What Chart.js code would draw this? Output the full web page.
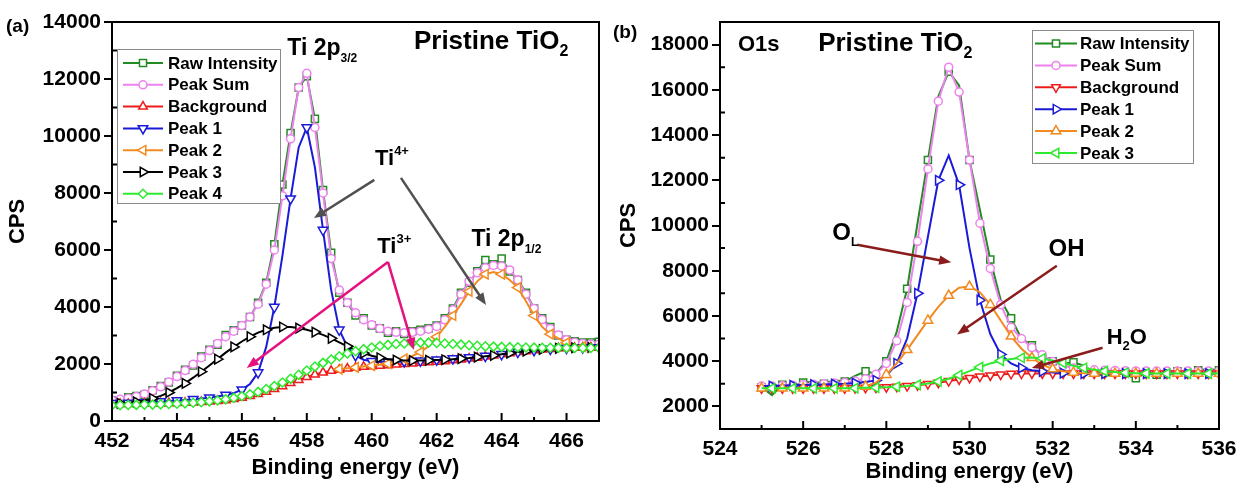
<!DOCTYPE html>
<html>
<head>
<meta charset="utf-8">
<script src="https://cdn.jsdelivr.net/npm/chart.js@4.4.1/dist/chart.umd.min.js"></script>
<style>
html, body { margin: 0; padding: 0; background: #fff; }
#wrap { position: relative; width: 1244px; height: 484px; }
canvas { position: absolute; top: 0; }
#chartA { left: 0; }
#chartB { left: 606px; }
</style>
</head>
<body>
<div id="wrap">
  <canvas id="chartA" width="606" height="484"></canvas>
  <canvas id="chartB" width="638" height="484"></canvas>
</div>
<script>
var FONT = '"Liberation Sans", Arial, sans-serif';

// ---- panel (a) : Ti 2p ----
var energyA = [
  452, 452.25, 452.5, 452.75, 453, 453.25, 453.5, 453.75,
  454, 454.25, 454.5, 454.75, 455, 455.25, 455.5, 455.75,
  456, 456.25, 456.5, 456.75, 457, 457.25, 457.5, 457.75,
  458, 458.25, 458.5, 458.75, 459, 459.25, 459.5, 459.75,
  460, 460.25, 460.5, 460.75, 461, 461.25, 461.5, 461.75,
  462, 462.25, 462.5, 462.75, 463, 463.25, 463.5, 463.75,
  464, 464.25, 464.5, 464.75, 465, 465.25, 465.5, 465.75,
  466, 466.25, 466.5, 466.75, 467
];
var rawA = [
  720, 700, 830, 880, 920, 1080, 1230, 1350,
  1590, 1800, 1950, 2260, 2500, 2680, 3020, 3180,
  3350, 3650, 4150, 4850, 6200, 8300, 10100, 11700,
  12100, 10600, 8100, 5900, 4500, 4150, 3700, 3600,
  3350, 3250, 3100, 3150, 3050, 3150, 3200, 3250,
  3350, 3600, 3950, 4500, 4850, 5250, 5650, 5500,
  5700, 5250, 4950, 4500, 3950, 3600, 3300, 3000,
  2850, 2800, 2750, 2750, 2780
];
var sumA = [
  730, 760, 800, 860, 950, 1060, 1200, 1370,
  1560, 1770, 1990, 2220, 2470, 2720, 2960, 3150,
  3350, 3650, 4100, 4800, 6000, 7900, 9900, 11700,
  12200, 10300, 8000, 5700, 4600, 4150, 3800, 3550,
  3380, 3250, 3150, 3110, 3100, 3110, 3150, 3220,
  3320, 3550, 3900, 4450, 4900, 5200, 5380, 5460,
  5440, 5300, 4950, 4450, 3950, 3560, 3250, 3020,
  2850, 2760, 2720, 2700, 2690
];
var bgA = [
  600, 600, 600, 605, 610, 615, 620, 625,
  630, 640, 650, 665, 680, 700, 730, 770,
  820, 880, 950, 1030, 1120, 1220, 1330, 1440,
  1540, 1630, 1700, 1760, 1800, 1840, 1870, 1900,
  1920, 1940, 1960, 1980, 2000, 2020, 2040, 2060,
  2080, 2100, 2130, 2160, 2190, 2220, 2260, 2300,
  2340, 2380, 2420, 2450, 2480, 2510, 2530, 2550,
  2560, 2570, 2575, 2580, 2580
];
var peak1A = [
  620, 625, 630, 640, 650, 660, 680, 700,
  720, 740, 760, 790, 820, 860, 910, 980,
  1100, 1300, 1700, 2600, 4000, 5800, 7800, 9600,
  10300, 8900, 6700, 4600, 3200, 2600, 2300, 2150,
  2100, 2080, 2080, 2080, 2090, 2100, 2110, 2130,
  2150, 2170, 2190, 2210, 2230, 2250, 2280, 2310,
  2340, 2380, 2420, 2450, 2480, 2510, 2530, 2550,
  2560, 2570, 2575, 2580, 2580
];
var peak2A = [
  null, null, null, null, null, null, null, null,
  null, null, null, null, null, null, null, null,
  null, null, null, null, null, null, null, null,
  null, null, null, null, 1820, 1850, 1880, 1910,
  1940, 1970, 2010, 2100, 2180, 2280, 2420, 2620,
  2950, 3300, 3700, 4100, 4550, 4900, 5150, 5230,
  5150, 4950, 4680, 4200, 3700, 3300, 3050, 2900,
  2750, 2660, 2610, 2590, 2580
];
var peak3A = [
  610, 620, 640, 670, 720, 790, 880, 1000,
  1150, 1320, 1520, 1730, 1950, 2170, 2400, 2600,
  2790, 2960, 3100, 3200, 3270, 3300, 3300, 3260,
  3200, 3120, 3020, 2900, 2760, 2620, 2490, 2380,
  2290, 2220, 2170, 2140, 2120, 2120, 2120, 2130,
  2140, 2150, 2170, 2190, 2210, 2240, 2270, 2300,
  2340, 2380, 2420, 2450, 2480, 2510, 2530, 2550,
  2560, 2570, 2575, 2580, 2580
];
var peak4A = [
  550, 555, 560, 565, 570, 575, 585, 595,
  605, 620, 640, 660, 690, 720, 760, 810,
  870, 940, 1020, 1120, 1230, 1350, 1480, 1620,
  1770, 1910, 2040, 2160, 2270, 2370, 2450, 2520,
  2580, 2630, 2670, 2700, 2720, 2740, 2750, 2750,
  2740, 2720, 2700, 2680, 2660, 2640, 2620, 2610,
  2600, 2590, 2585, 2580, 2575, 2570, 2570, 2565,
  2565, 2560, 2560, 2560, 2560
];
var xTicksA = [452, 454, 456, 458, 460, 462, 464, 466];
var xMinorA = [453, 455, 457, 459, 461, 463, 465];
var yTicksA = [0, 2000, 4000, 6000, 8000, 10000, 12000, 14000];
var yMinorA = [1000, 3000, 5000, 7000, 9000, 11000, 13000];

// ---- panel (b) : O 1s ----
var energyB = [
  525, 525.25, 525.5, 525.75, 526, 526.25, 526.5, 526.75,
  527, 527.25, 527.5, 527.75, 528, 528.25, 528.5, 528.75,
  529, 529.25, 529.5, 529.75, 530, 530.25, 530.5, 530.75,
  531, 531.25, 531.5, 531.75, 532, 532.25, 532.5, 532.75,
  533, 533.25, 533.5, 533.75, 534, 534.25, 534.5, 534.75,
  535, 535.25, 535.5, 535.75, 536
];
var rawB = [
  2850, 2500, 2950, 2900, 3050, 3100, 3000, 3150,
  3100, 3350, 3550, 3450, 4000, 5300, 7200, 10100,
  12900, 15700, 16800, 16200, 12900, 10700, 8500, 6700,
  5900, 5000, 4700, 4200, 4000, 3900, 3950, 3800,
  3500, 3300, 3500, 3400, 3250, 3500, 3400, 3450,
  3550, 3450, 3600, 3650, 3600
];
var sumB = [
  2900, 2900, 2920, 2940, 2960, 2980, 3000, 3030,
  3060, 3120, 3220, 3420, 3900, 4900, 6600, 9300,
  12500, 15500, 17000, 15900, 12900, 10100, 8100, 6500,
  5500, 5000, 4600, 4280, 3980, 3800, 3700, 3650,
  3620, 3600, 3590, 3580, 3570, 3565, 3560, 3560,
  3560, 3560, 3560, 3560, 3560
];
var bgB = [
  2800, 2800, 2800, 2800, 2800, 2800, 2800, 2800,
  2800, 2810, 2820, 2830, 2850, 2870, 2900, 2940,
  2990, 3050, 3120, 3190, 3260, 3320, 3370, 3410,
  3440, 3450, 3460, 3460, 3460, 3455, 3455, 3450,
  3450, 3450, 3450, 3450, 3450, 3450, 3450, 3450,
  3450, 3450, 3450, 3450, 3450
];
var peak1B = [
  2900, 2900, 2920, 2930, 2950, 2960, 2970, 2990,
  3000, 3030, 3080, 3150, 3350, 3900, 5000, 7000,
  9500, 12000, 13100, 11800, 9000, 6700, 5200, 4300,
  3900, 3700, 3600, 3550, 3500, 3470, 3460, 3450,
  3450, 3450, 3450, 3450, 3450, 3450, 3450, 3450,
  3450, 3450, 3450, 3450, 3450
];
var peak2B = [
  2800, 2800, 2800, 2800, 2800, 2800, 2800, 2800,
  2800, 2820, 2880, 3050, 3400, 3900, 4500, 5150,
  5800, 6400, 6900, 7250, 7300, 7050, 6500, 5800,
  5100, 4550, 4150, 3850, 3650, 3550, 3500, 3470,
  3460, 3450, 3450, 3450, 3450, 3450, 3450, 3450,
  3450, 3450, 3450, 3450, 3450
];
var peak3B = [
  2800, 2800, 2800, 2800, 2800, 2800, 2800, 2800,
  2800, 2810, 2820, 2830, 2850, 2870, 2900, 2950,
  3010, 3100, 3220, 3380, 3560, 3740, 3900, 4020,
  4100, 4150, 4160, 4120, 4030, 3920, 3800, 3700,
  3620, 3560, 3520, 3490, 3470, 3460, 3450, 3450,
  3450, 3450, 3450, 3450, 3450
];
var xTicksB = [524, 526, 528, 530, 532, 534, 536];
var xMinorB = [525, 527, 529, 531, 533, 535];
var yTicksB = [2000, 4000, 6000, 8000, 10000, 12000, 14000, 16000, 18000];
var yMinorB = [1000, 3000, 5000, 7000, 9000, 11000, 13000, 15000, 17000, 19000];

function series(label, xs, ys, color, style, rot, r, every, shift, order) {
  return {
    label: label,
    data: xs.map(function (x, i) { return { x: x, y: ys[i] }; }),
    borderColor: color,
    borderWidth: 2,
    backgroundColor: '#fff',
    pointStyle: style,
    pointRotation: rot,
    pointBorderColor: color,
    pointBackgroundColor: '#fff',
    pointBorderWidth: 1.5,
    pointRadius: function (c) { return c.dataIndex % every === shift ? r : 0; },
    pointHoverRadius: 0,
    tension: 0,
    fill: false,
    order: order,
    markR: r
  };
}

function drawSegs(ctx, segs, x, y) {
  ctx.fillStyle = '#000';
  ctx.textBaseline = 'alphabetic';
  ctx.textAlign = 'left';
  segs.forEach(function (s) {
    ctx.font = 'bold ' + s.s + 'px ' + FONT;
    ctx.fillText(s.t, x, y + (s.dy || 0));
    x += ctx.measureText(s.t).width;
  });
}

function arrow(ctx, x1, y1, x2, y2, color, w, head) {
  var ang = Math.atan2(y2 - y1, x2 - x1);
  ctx.strokeStyle = color;
  ctx.fillStyle = color;
  ctx.lineWidth = w;
  ctx.beginPath();
  ctx.moveTo(x1, y1);
  ctx.lineTo(x2 - Math.cos(ang) * head * 0.7, y2 - Math.sin(ang) * head * 0.7);
  ctx.stroke();
  ctx.beginPath();
  ctx.moveTo(x2, y2);
  ctx.lineTo(x2 - head * Math.cos(ang - 0.38), y2 - head * Math.sin(ang - 0.38));
  ctx.lineTo(x2 - head * Math.cos(ang + 0.38), y2 - head * Math.sin(ang + 0.38));
  ctx.closePath();
  ctx.fill();
}

// frame, inward ticks, arrows, labels, legend
var decor = {
  id: 'decor',
  afterDatasetsDraw: function (chart, args, o) {
    var ctx = chart.ctx, a = chart.chartArea;
    var sx = chart.scales.x, sy = chart.scales.y;
    ctx.save();
    ctx.strokeStyle = '#000';
    ctx.lineWidth = 2;
    ctx.beginPath();
    o.xMajor.forEach(function (v) {
      var p = sx.getPixelForValue(v);
      ctx.moveTo(p, a.bottom); ctx.lineTo(p, a.bottom - 8);
    });
    o.xMinor.forEach(function (v) {
      var p = sx.getPixelForValue(v);
      ctx.moveTo(p, a.bottom); ctx.lineTo(p, a.bottom - 4);
    });
    o.yMinor.forEach(function (v) {
      var p = sy.getPixelForValue(v);
      ctx.moveTo(a.left, p); ctx.lineTo(a.left + 5, p);
    });
    ctx.stroke();
    ctx.strokeRect(a.left, a.top, a.right - a.left, a.bottom - a.top);

    o.arrows.forEach(function (r) {
      arrow(ctx, sx.getPixelForValue(r[0]), sy.getPixelForValue(r[1]),
        sx.getPixelForValue(r[2]), sy.getPixelForValue(r[3]), r[4], 2.5, 13);
    });
    o.texts.forEach(function (t) {
      drawSegs(ctx, t.segs, sx.getPixelForValue(t.x), sy.getPixelForValue(t.y));
    });
    drawSegs(ctx, [{ t: o.tag, s: 19 }], o.tagX, o.tagY);

    var L = o.legend;
    ctx.fillStyle = '#fff';
    ctx.fillRect(L.x, L.y, L.w, L.h);
    ctx.strokeStyle = '#8a8a8a';
    ctx.lineWidth = 1;
    ctx.strokeRect(L.x + 0.5, L.y + 0.5, L.w, L.h);
    chart.data.datasets.forEach(function (d, i) {
      var yy = L.row0 + i * L.rowH;
      ctx.strokeStyle = d.borderColor;
      ctx.lineWidth = 2;
      ctx.beginPath();
      ctx.moveTo(L.l0, yy); ctx.lineTo(L.l1, yy);
      ctx.stroke();
      ctx.fillStyle = '#fff';
      ctx.lineWidth = 1.5;
      Chart.helpers.drawPoint(ctx, {
        pointStyle: d.pointStyle, rotation: d.pointRotation,
        radius: d.markR, borderWidth: 1.5
      }, (L.l0 + L.l1) / 2, yy);
      ctx.fillStyle = '#000';
      ctx.font = 'bold 17px ' + FONT;
      ctx.textBaseline = 'middle';
      ctx.fillText(d.label, L.tx, yy + 1);
    });
    ctx.restore();
  }
};

function build(id, datasets, ax, notes) {
  var tickFont = { family: FONT, size: 21, weight: 'bold' };
  var titleFont = { family: FONT, size: 22, weight: 'bold', lineHeight: 1 };
  return new Chart(document.getElementById(id), {
    type: 'line',
    data: { datasets: datasets },
    plugins: [decor],
    options: {
      responsive: false,
      animation: false,
      devicePixelRatio: 1,
      layout: { padding: ax.pad },
      plugins: { legend: { display: false }, tooltip: { enabled: false }, decor: notes },
      scales: {
        x: {
          type: 'linear', min: ax.xMin, max: ax.xMax,
          afterBuildTicks: function (s) { s.ticks = ax.xTicks.map(function (v) { return { value: v }; }); },
          afterFit: function (s) { s.height = ax.xH; },
          grid: { display: false },
          border: { display: false },
          ticks: { color: '#000', font: tickFont, padding: ax.xPad, maxRotation: 0, autoSkip: false,
            callback: function (v) { return String(v); } },
          title: { display: true, text: 'Binding energy (eV)', color: '#000', font: titleFont,
            padding: { top: 0, bottom: ax.titlePad } }
        },
        y: {
          type: 'linear', min: ax.yMin, max: ax.yMax,
          afterBuildTicks: function (s) { s.ticks = ax.yTicks.map(function (v) { return { value: v }; }); },
          afterFit: function (s) { s.width = ax.yW; },
          grid: { drawOnChartArea: false, tickLength: 8, color: '#000', lineWidth: 2 },
          border: { display: false },
          ticks: { color: '#000', font: tickFont, padding: 3, autoSkip: false,
            callback: function (v) { return String(v); } },
          title: { display: true, text: 'CPS', color: '#000',
            font: { family: FONT, size: 22, weight: 'bold' },
            padding: { top: ax.yTitlePad, bottom: 0 } }
        }
      }
    }
  });
}

var GREEN_D = '#228B22', VIOLET = '#EE82EE', RED = '#EE1C1C', BLUE = '#1B1BD6',
    ORANGE = '#F38A1F', BRIGHT = '#2EEA2E';

build('chartA', [
  series('Raw Intensity', energyA, rawA, GREEN_D, 'rect', 0, 5, 1, 0, 7),
  series('Peak Sum', energyA, sumA, VIOLET, 'circle', 0, 4, 1, 0, 6),
  series('Background', energyA, bgA, RED, 'triangle', 0, 5, 1, 0, 5),
  series('Peak 1', energyA, peak1A, BLUE, 'triangle', 180, 5.5, 2, 0, 4),
  series('Peak 2', energyA, peak2A, ORANGE, 'triangle', 270, 5.5, 2, 0, 3),
  series('Peak 3', energyA, peak3A, '#000', 'triangle', 90, 5.5, 2, 1, 2),
  series('Peak 4', energyA, peak4A, BRIGHT, 'rectRot', 0, 4.5, 1, 0, 1)
], {
  xMin: 452, xMax: 467, xTicks: xTicksA, yMin: 0, yMax: 14000, yTicks: yTicksA,
  pad: { left: 0, right: 2, top: 22, bottom: 0 }, xH: 63, yW: 112, yTitlePad: 5,
  xPad: 0, titlePad: 5
}, {
  xMajor: xTicksA, xMinor: xMinorA, yMinor: yMinorA,
  tag: '(a)', tagX: 6, tagY: 32,
  legend: { x: 117, y: 49, w: 163, h: 154, row0: 63, rowH: 21.8, l0: 123, l1: 163, tx: 168 },
  arrows: [
    [460.08, 8460, 458.22, 7120, '#505050'],
    [460.9, 8530, 463.52, 4070, '#505050'],
    [460.5, 5580, 456.15, 1860, '#E5127D'],
    [460.5, 5580, 461.3, 2490, '#E5127D']
  ],
  texts: [
    { x: 461.3, y: 13050, segs: [{ t: 'Pristine TiO', s: 26 }, { t: '2', s: 16, dy: 7 }] },
    { x: 457.4, y: 12850, segs: [{ t: 'Ti 2p', s: 23 }, { t: '3/2', s: 12, dy: 7 }] },
    { x: 460.1, y: 9000, segs: [{ t: 'Ti', s: 22 }, { t: '4+', s: 13, dy: -10 }] },
    { x: 460.17, y: 5890, segs: [{ t: 'Ti', s: 22 }, { t: '3+', s: 13, dy: -10 }] },
    { x: 463.07, y: 6140, segs: [{ t: 'Ti 2p', s: 23 }, { t: '1/2', s: 12, dy: 7 }] }
  ]
});

build('chartB', [
  series('Raw Intensity', energyB, rawB, GREEN_D, 'rect', 0, 5, 2, 0, 7),
  series('Peak Sum', energyB, sumB, VIOLET, 'circle', 0, 4, 1, 0, 6),
  series('Background', energyB, bgB, RED, 'triangle', 180, 5, 1, 0, 5),
  series('Peak 1', energyB, peak1B, BLUE, 'triangle', 90, 5.5, 2, 1, 4),
  series('Peak 2', energyB, peak2B, ORANGE, 'triangle', 0, 5.5, 2, 0, 3),
  series('Peak 3', energyB, peak3B, BRIGHT, 'triangle', 270, 5.5, 2, 1, 2)
], {
  xMin: 524, xMax: 536, xTicks: xTicksB, yMin: 1000, yMax: 19000, yTicks: yTicksB,
  pad: { left: 0, right: 25, top: 22, bottom: 0 }, xH: 55, yW: 114, yTitlePad: 10,
  xPad: 0, titlePad: 1
}, {
  xMajor: xTicksB, xMinor: xMinorB, yMinor: yMinorB,
  tag: '(b)', tagX: 7, tagY: 38,
  legend: { x: 426, y: 30, w: 161, h: 133, row0: 43.5, rowH: 21.9, l0: 429, l1: 471, tx: 474 },
  arrows: [
    [527.3, 9150, 529.56, 8370, '#8B1C1C'],
    [532.1, 8220, 529.7, 5180, '#8B1C1C'],
    [533.2, 4590, 531.5, 3700, '#8B1C1C']
  ],
  texts: [
    { x: 524.43, y: 17700, segs: [{ t: 'O1s', s: 22 }] },
    { x: 526.36, y: 17700, segs: [{ t: 'Pristine TiO', s: 26 }, { t: '2', s: 16, dy: 7 }] },
    { x: 526.7, y: 9350, segs: [{ t: 'O', s: 24 }, { t: 'L', s: 12, dy: 6 }] },
    { x: 531.9, y: 8670, segs: [{ t: 'OH', s: 24 }] },
    { x: 533.3, y: 4740, segs: [{ t: 'H', s: 22 }, { t: '2', s: 13, dy: 6 }, { t: 'O', s: 22 }] }
  ]
});
</script>
</body>
</html>
